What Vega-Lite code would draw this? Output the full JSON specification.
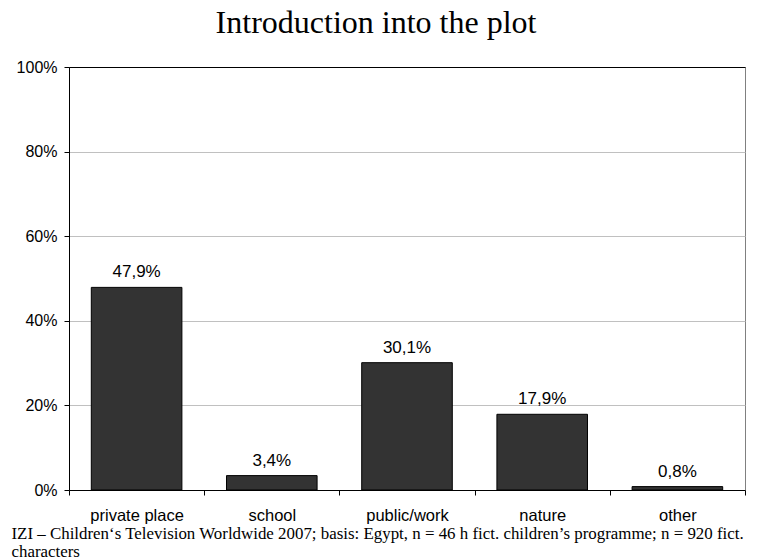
{
  "$schema": "https://vega.github.io/schema/vega-lite/v6.json",
  "width": 676,
  "height": 423,
  "autosize": {"type": "none"},
  "padding": {"left": 69, "top": 67, "right": 15, "bottom": 70},
  "background": "white",
  "config": {
    "view": {"stroke": "#808080"},
    "locale": {"number": {"decimal": ",", "thousands": ".", "grouping": [3], "currency": ["", " €"]}}
  },
  "title": {
    "text": "Introduction into the plot",
    "font": "Liberation Serif",
    "fontSize": 32,
    "fontWeight": "normal",
    "color": "black",
    "anchor": "middle",
    "dx": -31,
    "offset": 19
  },
  "data": {
    "values": [
      {"place": "private place", "value": 0.479},
      {"place": "school", "value": 0.034},
      {"place": "public/work", "value": 0.301},
      {"place": "nature", "value": 0.179},
      {"place": "other", "value": 0.008}
    ]
  },
  "encoding": {
    "x": {
      "field": "place",
      "type": "nominal",
      "sort": null,
      "scale": {"paddingInner": 0, "paddingOuter": 0},
      "axis": {
        "title": ["IZI – Children‘s Television Worldwide 2007; basis: Egypt, n = 46 h fict. children’s programme; n = 920 fict.", "characters"],
        "titleFont": "Liberation Serif",
        "titleFontSize": 16.9,
        "titleFontWeight": "normal",
        "titleColor": "black",
        "titleAlign": "left",
        "titleX": -58,
        "titleY": 48.3,
        "titleBaseline": "alphabetic",
        "titleLineHeight": 18.4,
        "labelAngle": 0,
        "labelFont": "Liberation Sans",
        "labelFontSize": 16.5,
        "labelColor": "black",
        "labelPadding": 25,
        "labelBaseline": "alphabetic",
        "tickBand": "extent",
        "tickSize": 5,
        "tickColor": "black",
        "domainColor": "black",
        "grid": false
      }
    },
    "y": {
      "field": "value",
      "type": "quantitative",
      "scale": {"domain": [0, 1]},
      "axis": {
        "title": null,
        "values": [0, 0.2, 0.4, 0.6, 0.8, 1],
        "format": ".0%",
        "labelFont": "Liberation Sans",
        "labelFontSize": 16,
        "labelColor": "black",
        "labelPadding": 7,
        "tickSize": 5,
        "tickColor": "black",
        "domainColor": "black",
        "gridColor": {"condition": {"test": "datum.value >= 1", "value": "black"}, "value": "#c0c0c0"}
      }
    }
  },
  "layer": [
    {
      "mark": {"type": "bar", "width": {"band": 0.67}, "fill": "#333333", "stroke": "black", "strokeWidth": 1}
    },
    {
      "mark": {"type": "text", "dy": -10, "baseline": "alphabetic", "font": "Liberation Sans", "fontSize": 17, "color": "black"},
      "encoding": {"text": {"field": "value", "type": "quantitative", "format": ".1%"}}
    }
  ]
}
